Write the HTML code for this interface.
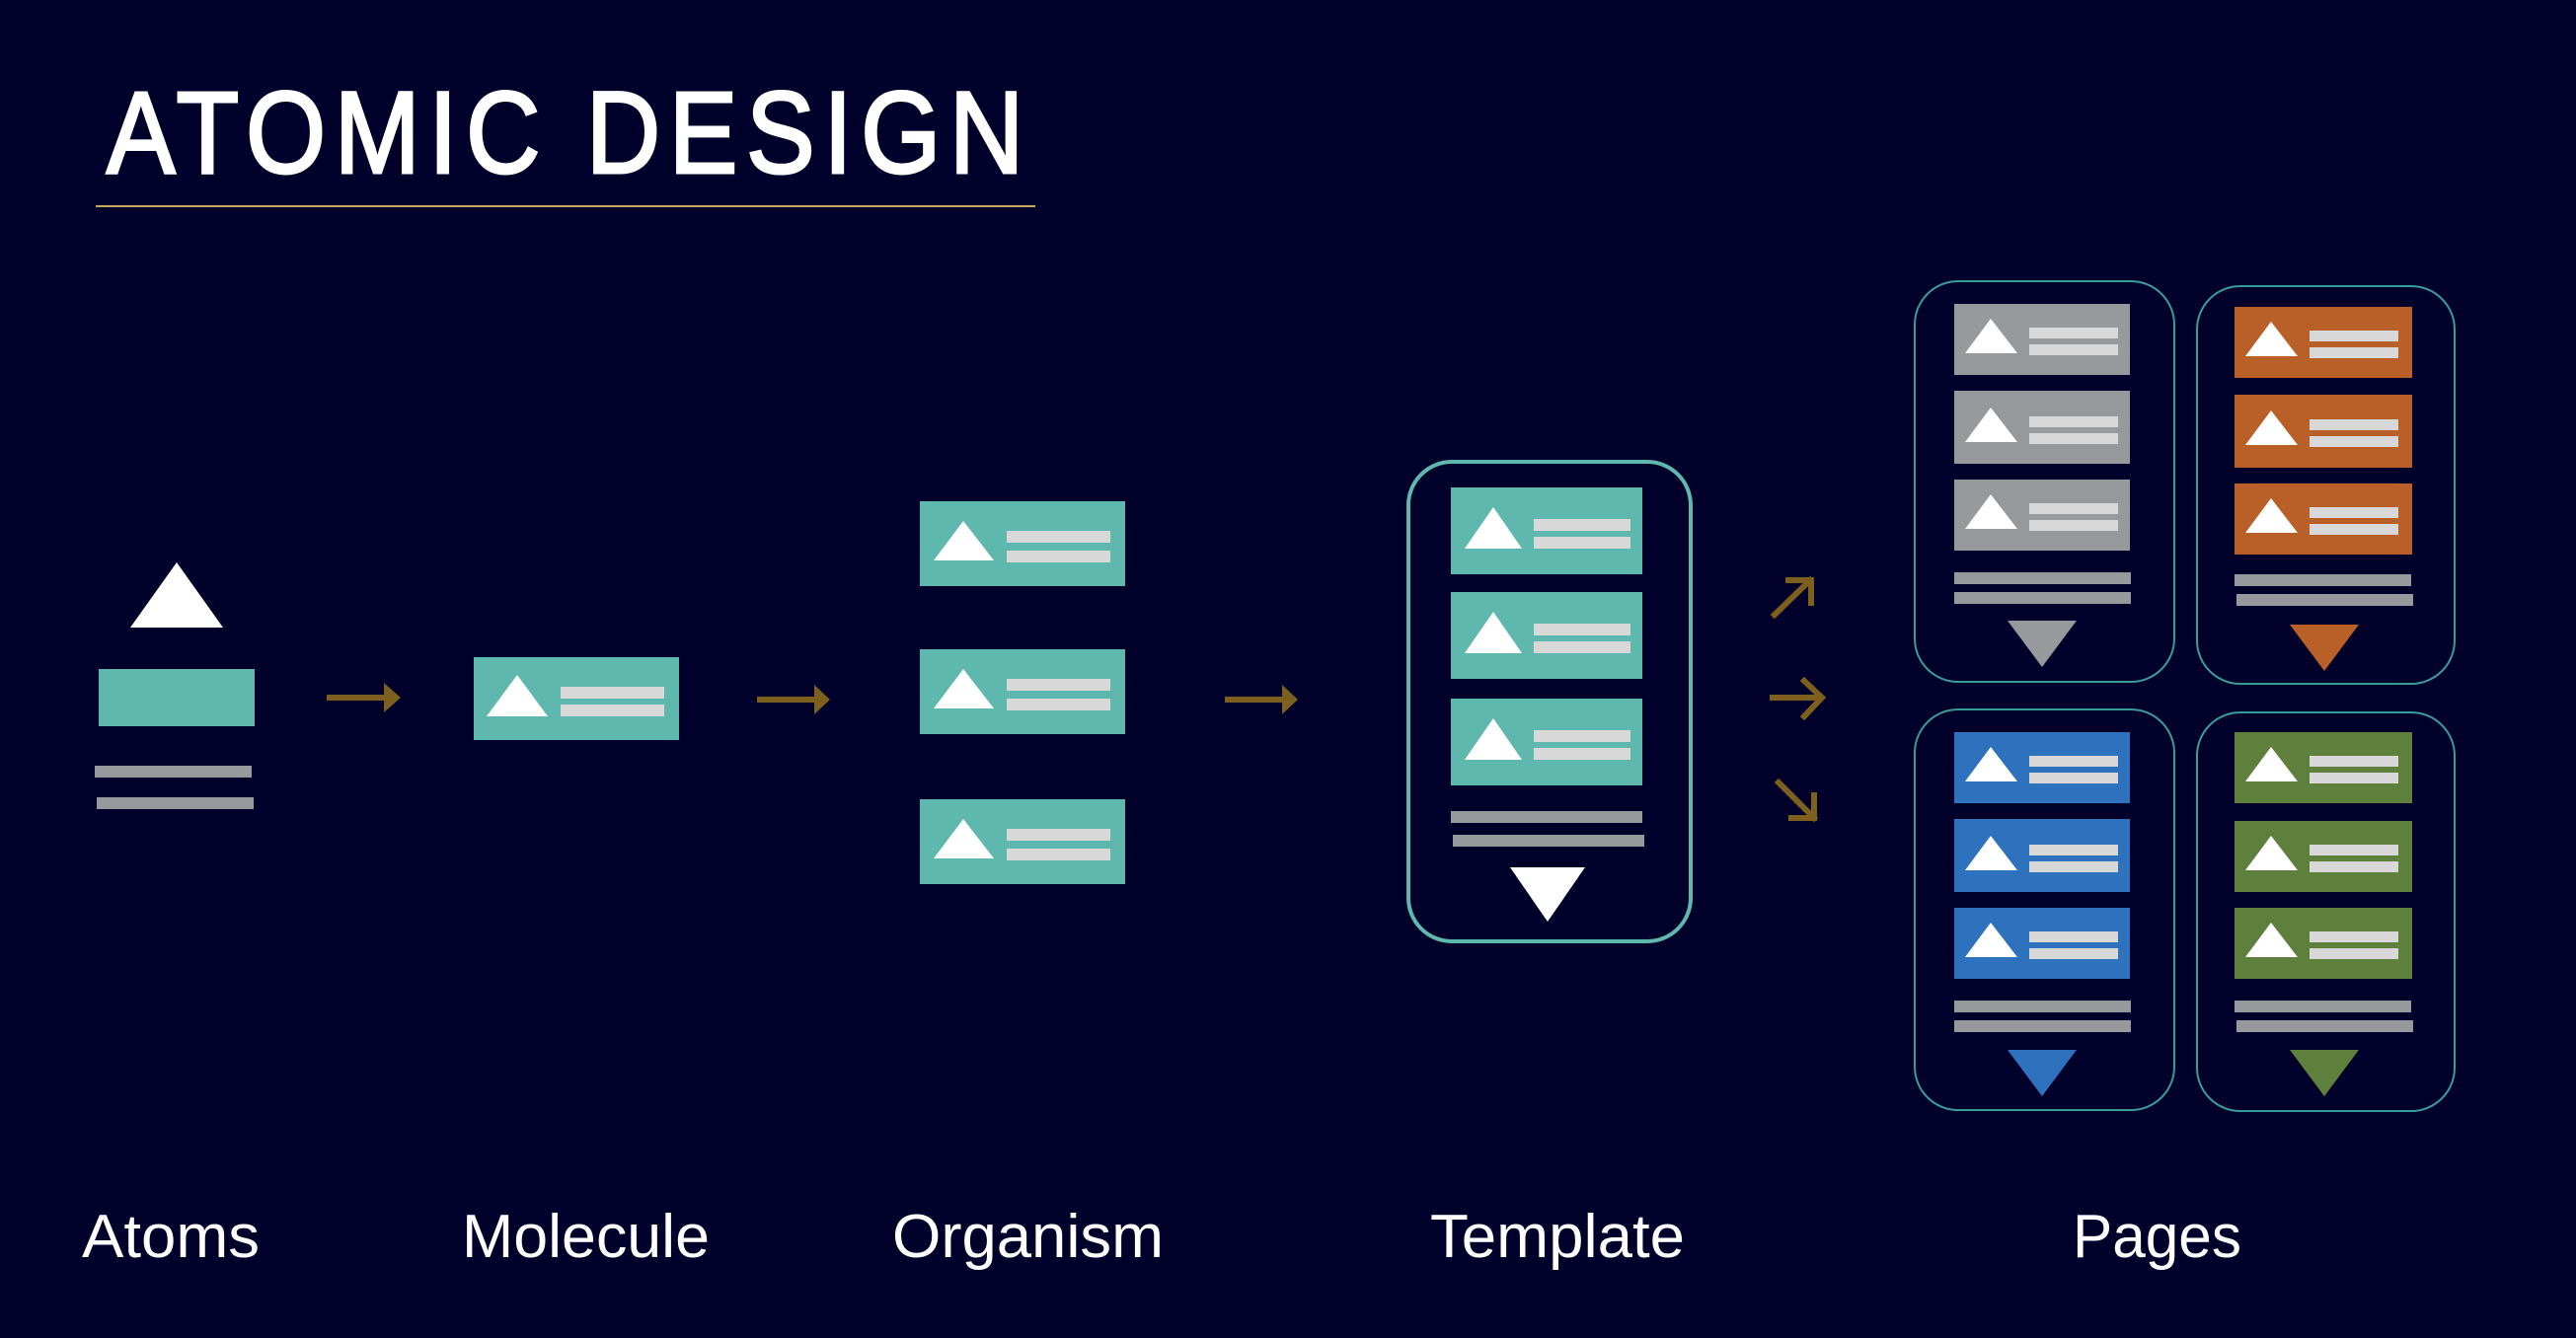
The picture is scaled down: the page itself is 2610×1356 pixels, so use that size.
<!DOCTYPE html>
<html><head><meta charset="utf-8"><style>
html,body{margin:0;padding:0;background:#00002a;}
svg{display:block}
</style></head><body>
<svg width="2610" height="1356" viewBox="0 0 2610 1356" xmlns="http://www.w3.org/2000/svg">
<rect width="2610" height="1356" fill="#00002a"/>
<defs>
<g id="pc">
 <polygon points="11,50 37,15 64,50" fill="#fff"/>
 <rect x="76" y="24" width="90" height="11" fill="#d8d8d8"/>
 <rect x="76" y="41" width="90" height="11" fill="#d8d8d8"/>
</g>
<g id="tc">
 <rect width="194" height="88" fill="#5fb8ae"/>
 <polygon points="14,62 43,20 72,62" fill="#fff"/>
 <rect x="84" y="32" width="98" height="12" fill="#d8d8d8"/>
 <rect x="84" y="50" width="98" height="12" fill="#d8d8d8"/>
</g>
<g id="oc">
 <rect width="208" height="86" fill="#5fb8ae"/>
 <polygon points="14,60 44,20 75,60" fill="#fff"/>
 <rect x="88" y="30" width="105" height="12" fill="#d8d8d8"/>
 <rect x="88" y="50" width="105" height="12" fill="#d8d8d8"/>
</g>
</defs>

<text x="108" y="175" fill="#fff" stroke="#fff" stroke-width="3" font-family="Liberation Sans, sans-serif" font-size="118" letter-spacing="10" textLength="938" lengthAdjust="spacingAndGlyphs">ATOMIC DESIGN</text>
<rect x="97" y="208" width="952" height="2" fill="#c8a860"/>

<!-- Atoms -->
<polygon points="132,636 179,570 226,636" fill="#fff"/>
<rect x="100" y="678" width="158" height="58" fill="#5fb8ae"/>
<rect x="96" y="776" width="159" height="12" fill="#98999d"/>
<rect x="98" y="808" width="159" height="12" fill="#98999d"/>

<!-- arrows -->
<g fill="#7d5f1e">
 <rect x="331" y="704" width="62" height="6"/><polygon points="389,692 406,707 389,722"/>
 <rect x="767" y="706" width="62" height="6"/><polygon points="825,694 841,709 825,724"/>
 <rect x="1241" y="706" width="62" height="6"/><polygon points="1299,694 1315,709 1299,724"/>
</g>

<!-- Molecule -->
<rect x="480" y="666" width="208" height="84" fill="#5fb8ae"/>
<polygon points="493,726 524,684 555,726" fill="#fff"/>
<rect x="568" y="696" width="105" height="12" fill="#d8d8d8"/>
<rect x="568" y="714" width="105" height="12" fill="#d8d8d8"/>

<!-- Organism -->
<use href="#oc" x="932" y="508"/>
<use href="#oc" x="932" y="658"/>
<use href="#oc" x="932" y="810"/>

<!-- Template -->
<rect x="1427" y="468" width="286" height="486" rx="44" fill="none" stroke="#5fb8ae" stroke-width="4"/>
<use href="#tc" x="1470" y="494"/>
<use href="#tc" x="1470" y="600"/>
<use href="#tc" x="1470" y="708"/>
<rect x="1470" y="822" width="194" height="12" fill="#98999d"/>
<rect x="1472" y="846" width="194" height="12" fill="#98999d"/>
<polygon points="1530,879 1606,879 1568,934" fill="#fff"/>

<!-- branch arrows -->
<g stroke="#7d5f1e" stroke-width="6" fill="none" stroke-linecap="square">
 <path d="M1798,623 L1834,588 M1812,588 L1835,588 L1835,611"/>
 <path d="M1796,707 L1844,707 M1828,690 L1846,707 L1828,726"/>
 <path d="M1802,793 L1838,829 M1838,806 L1838,829 L1815,829"/>
</g>

<!-- Pages -->
<g transform="translate(1939,284)">
 <rect x="1" y="1" width="263" height="406" rx="44" fill="none" stroke="#3a9c9a" stroke-width="2"/>
 <rect x="41" y="24" width="178" height="72" fill="#98999d"/><use href="#pc" x="41" y="24"/>
 <rect x="41" y="112" width="178" height="74" fill="#98999d"/><use href="#pc" x="41" y="114"/>
 <rect x="41" y="202" width="178" height="72" fill="#98999d"/><use href="#pc" x="41" y="202"/>
 <rect x="41" y="296" width="179" height="12" fill="#98999d"/>
 <rect x="41" y="316" width="179" height="12" fill="#98999d"/>
 <polygon points="95,345 165,345 130,392" fill="#98999d"/>
</g>
<g transform="translate(2225,289)">
 <rect x="1" y="1" width="261" height="403" rx="44" fill="none" stroke="#3a9c9a" stroke-width="2"/>
 <rect x="39" y="22" width="180" height="72" fill="#b95f28"/><use href="#pc" x="39" y="22"/>
 <rect x="39" y="111" width="180" height="74" fill="#b95f28"/><use href="#pc" x="39" y="112"/>
 <rect x="39" y="201" width="180" height="72" fill="#b95f28"/><use href="#pc" x="39" y="201"/>
 <rect x="39" y="293" width="179" height="12" fill="#98999d"/>
 <rect x="41" y="313" width="179" height="12" fill="#98999d"/>
 <polygon points="95,344 165,344 130,391" fill="#b95f28"/>
</g>
<g transform="translate(1939,718)">
 <rect x="1" y="1" width="263" height="406" rx="44" fill="none" stroke="#3a9c9a" stroke-width="2"/>
 <rect x="41" y="24" width="178" height="72" fill="#2e72bd"/><use href="#pc" x="41" y="24"/>
 <rect x="41" y="112" width="178" height="74" fill="#2e72bd"/><use href="#pc" x="41" y="114"/>
 <rect x="41" y="202" width="178" height="72" fill="#2e72bd"/><use href="#pc" x="41" y="202"/>
 <rect x="41" y="296" width="179" height="12" fill="#98999d"/>
 <rect x="41" y="316" width="179" height="12" fill="#98999d"/>
 <polygon points="95,346 165,346 130,393" fill="#2e72bd"/>
</g>
<g transform="translate(2225,721)">
 <rect x="1" y="1" width="261" height="404" rx="44" fill="none" stroke="#3a9c9a" stroke-width="2"/>
 <rect x="39" y="21" width="180" height="72" fill="#5f7f3c"/><use href="#pc" x="39" y="21"/>
 <rect x="39" y="111" width="180" height="72" fill="#5f7f3c"/><use href="#pc" x="39" y="111"/>
 <rect x="39" y="199" width="180" height="72" fill="#5f7f3c"/><use href="#pc" x="39" y="199"/>
 <rect x="39" y="293" width="179" height="12" fill="#98999d"/>
 <rect x="41" y="313" width="179" height="12" fill="#98999d"/>
 <polygon points="95,343 165,343 130,390" fill="#5f7f3c"/>
</g>

<!-- Labels -->
<g fill="#fff" font-family="Liberation Sans, sans-serif" font-size="62">
 <text x="83" y="1274" textLength="180" lengthAdjust="spacingAndGlyphs">Atoms</text>
 <text x="468" y="1274" textLength="251" lengthAdjust="spacingAndGlyphs">Molecule</text>
 <text x="904" y="1274" textLength="275" lengthAdjust="spacingAndGlyphs">Organism</text>
 <text x="1449" y="1274" textLength="258" lengthAdjust="spacingAndGlyphs">Template</text>
 <text x="2100" y="1274" textLength="171" lengthAdjust="spacingAndGlyphs">Pages</text>
</g>
</svg>
</body></html>
